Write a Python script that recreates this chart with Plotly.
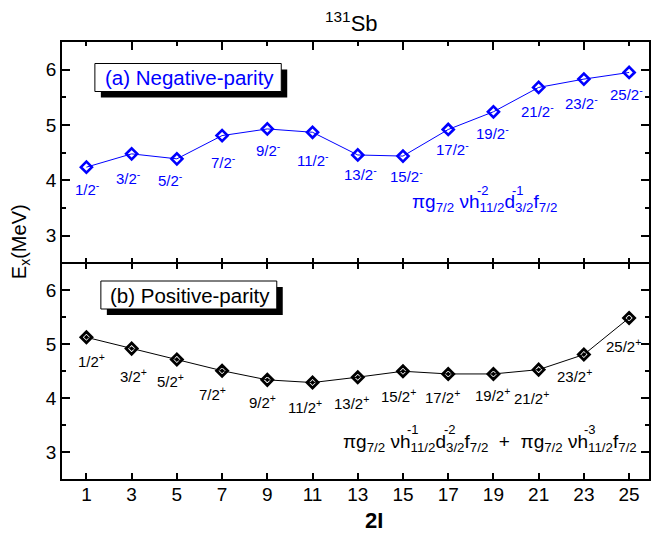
import plotly.graph_objects as go

# ---------------- data ----------------
two_I = [1, 3, 5, 7, 9, 11, 13, 15, 17, 19, 21, 23, 25]
E_negative = [4.24, 4.48, 4.39, 4.81, 4.93, 4.87, 4.46, 4.44, 4.92, 5.24, 5.68, 5.83, 5.95]
E_positive = [5.13, 4.92, 4.72, 4.51, 4.34, 4.29, 4.39, 4.50, 4.45, 4.45, 4.53, 4.81, 5.49]
labels_negative = ["1/2", "3/2", "5/2", "7/2", "9/2", "11/2", "13/2", "15/2", "17/2",
                   "19/2", "21/2", "23/2", "25/2"]
labels_positive = labels_negative
x_ticks = [1, 3, 5, 7, 9, 11, 13, 15, 17, 19, 21, 23, 25]
y_ticks = [3, 4, 5, 6]

# ---------------- layout helpers ----------------
W, H = 651, 536
L, R, T, B = 62, 0, 42, 57
PW, PH = W - L - R, H - T - B
SPLIT = (479 - 263.5) / PH


def px(xp):  # pixel -> paper
    return (xp - L) / PW


def py(yp):
    return (H - B - yp) / PH


FONT = "Arial, Liberation Sans, sans-serif"
BLUE = "#0000FF"

# label offsets (pixels, dx right, dy down)
off_neg = [(1, 21), (-3, 24), (-6, 21), (1, 26), (1, 21), (0, 27), (3, 19), (4, 19),
           (4, 19), (-1, 21), (-1, 23), (-2, 23), (-3, 21)]
off_pos = [(5, 23), (2, 27), (-6, 21), (-10, 23), (-5, 22), (-8, 24), (-6, 25), (-4, 24),
           (-6, 23), (-1, 21), (-7, 28), (-9, 21), (-6, 28)]

fig = go.Figure()

fig.add_trace(go.Scatter(
    x=two_I, y=E_negative, xaxis="x", yaxis="y", mode="lines+markers",
    line=dict(color=BLUE, width=1),
    marker=dict(symbol="diamond-open", size=8.5, color=BLUE, line=dict(width=2.6, color=BLUE)),
    hoverinfo="skip", showlegend=False))

fig.add_trace(go.Scatter(
    x=two_I, y=E_positive, xaxis="x2", yaxis="y2", mode="lines+markers",
    line=dict(color="black", width=1),
    marker=dict(symbol="diamond-open-dot", size=8.5, color="black", line=dict(width=2.8, color="black")),
    hoverinfo="skip", showlegend=False))

# helper trace to activate the top-frame tick axis
fig.add_trace(go.Scatter(
    x=two_I, y=E_negative, xaxis="x3", yaxis="y", mode="lines",
    line=dict(width=0), opacity=0, hoverinfo="skip", showlegend=False))

xrange = [-0.08, 25.88]
yrange = [2.5, 6.5]

common_y = dict(range=yrange, tickvals=y_ticks, ticks="inside", ticklen=8, tickwidth=1.5,
                tickcolor="black", showline=True, linecolor="black", linewidth=1.8,
                mirror="ticks", showgrid=False, zeroline=False,
                tickfont=dict(family=FONT, size=19, color="black"),
                minor=dict(dtick=0.5, tick0=2.5, ticks="inside", ticklen=4, tickwidth=1.5,
                           tickcolor="black", showgrid=False))

fig.update_layout(
    width=W, height=H,
    margin=dict(l=L, r=R, t=T, b=B),
    paper_bgcolor="white", plot_bgcolor="white",
    xaxis=dict(domain=[0, 1], anchor="y", range=xrange, tickvals=x_ticks, ticks="inside",
               ticklen=6, tickwidth=1.5, tickcolor="black", showticklabels=False,
               showline=False, showgrid=False, zeroline=False),
    xaxis3=dict(overlaying="x", anchor="y", side="top", range=xrange,
                tickvals=[3, 7, 11, 15, 19, 23], ticks="inside", ticklen=8, tickwidth=1.5,
                tickcolor="black", showticklabels=False, showline=True, linecolor="black",
                linewidth=1.8, showgrid=False, zeroline=False,
                minor=dict(tickvals=[1, 5, 9, 13, 17, 21, 25], ticks="inside", ticklen=4,
                           tickwidth=1.5, tickcolor="black", showgrid=False)),
    yaxis=dict(domain=[SPLIT, 1], anchor="x", **common_y),
    xaxis2=dict(domain=[0, 1], anchor="y2", range=xrange, tickvals=x_ticks, ticks="inside",
                ticklen=6, tickwidth=1.5, tickcolor="black", showticklabels=True,
                ticklabelstandoff=-3,
                tickfont=dict(family=FONT, size=19, color="black"),
                showline=True, linecolor="black", linewidth=1.8, mirror="ticks",
                showgrid=False, zeroline=False),
    yaxis2=dict(domain=[0, SPLIT], anchor="x2", **common_y),
    font=dict(family=FONT, color="black"),
)

ann = []
# state labels
for xv, yv, lab, (dx, dy) in zip(two_I, E_negative, labels_negative, off_neg):
    ann.append(dict(x=xv, y=yv, xref="x", yref="y", text=f"{lab}<sup>-</sup>",
                    showarrow=False, xshift=dx, yshift=-dy, xanchor="center", yanchor="middle",
                    font=dict(family=FONT, size=15, color=BLUE)))
for xv, yv, lab, (dx, dy) in zip(two_I, E_positive, labels_positive, off_pos):
    ann.append(dict(x=xv, y=yv, xref="x2", yref="y2", text=f"{lab}<sup>+</sup>",
                    showarrow=False, xshift=dx, yshift=-dy, xanchor="center", yanchor="middle",
                    font=dict(family=FONT, size=15, color="black")))


def pann(xp, yp, text, size, color="black", xanchor="center", **kw):
    ann.append(dict(x=px(xp), y=py(yp), xref="paper", yref="paper", showarrow=False,
                    xanchor=xanchor, yanchor="middle", text=text,
                    font=dict(family=FONT, size=size, color=color), **kw))


# title, axis titles
pann(352, 22, "<sup>131</sup>Sb", 22)
pann(375, 520, "<b>2I</b>", 22)
pann(20, 242, "E<sub>x</sub>(MeV)", 20, textangle=-90)

# panel boxes with shadow
shapes = []
for (x0, y0, x1, y1, txt, col) in [
        (95, 63.5, 282, 91.5, "(a) Negative-parity", BLUE),
        (101, 281, 277.5, 309, "(b) Positive-parity", "black")]:
    shapes.append(dict(type="rect", xref="paper", yref="paper",
                       x0=px(x0 + 6), x1=px(x1 + 6), y0=py(y1 + 6), y1=py(y0 + 6),
                       fillcolor="black", line=dict(width=0)))
    shapes.append(dict(type="rect", xref="paper", yref="paper",
                       x0=px(x0), x1=px(x1), y0=py(y1), y1=py(y0),
                       fillcolor="white", line=dict(color="black", width=1)))
    pann((x0 + x1) / 2 + 1, (y0 + y1) / 2, txt, 20.5, col)

# configuration formulas (subscripts in text, superscripts stacked on top)
pann(411, 203, "πg<sub>7/2</sub> νh<sub>11/2</sub>d<sub>3/2</sub>f<sub>7/2</sub>", 19, BLUE,
     xanchor="left")
for xc, t in [(484.5, "-2"), (520, "-1")]:
    pann(xc, 190.5, t, 13, BLUE)

pann(342, 443, ("πg<sub>7/2</sub> νh<sub>11/2</sub>d<sub>3/2</sub>f<sub>7/2</sub>"
                "  +  πg<sub>7/2</sub> νh<sub>11/2</sub>f<sub>7/2</sub>"), 19, "black",
     xanchor="left")
for xc, t in [(414.5, "-1"), (451, "-2"), (592, "-3")]:
    pann(xc, 429, t, 13)

fig.update_layout(annotations=ann, shapes=shapes)
fig.write_html("out.html", config={"displayModeBar": False},
               post_script="document.body.style.margin='0px';document.body.style.overflow='hidden';")
